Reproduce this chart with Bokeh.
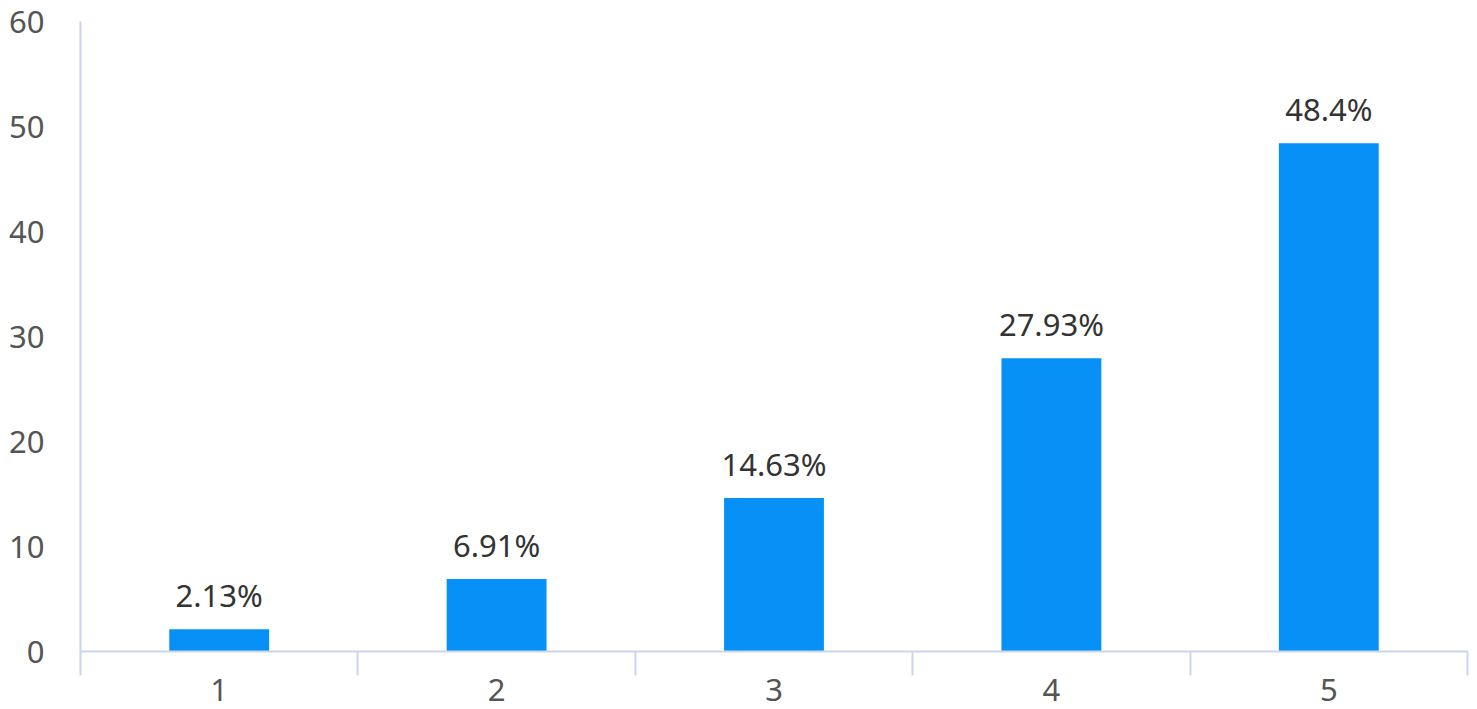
from bokeh.plotting import figure
from bokeh.models import ColumnDataSource, FixedTicker, Range1d
from bokeh.core.properties import value
from bokeh.embed import file_html
from bokeh.resources import INLINE

categories = [1, 2, 3, 4, 5]
values = [2.13, 6.91, 14.63, 27.93, 48.4]
labels = [f"{v}%" for v in values]
y_ticks = [0, 10, 20, 30, 40, 50, 60]
boundaries = [0.5, 1.5, 2.5, 3.5, 4.5, 5.5]

FONT = "Noto Sans"
AXIS = "#ccd6eb"
BAR = "#0791f7"

src = ColumnDataSource(dict(x=categories, top=values, label=labels))

p = figure(width=1477, height=709, output_backend="svg", toolbar_location=None,
           x_range=Range1d(0.5, 5.5), y_range=Range1d(0, 60),
           min_border_left=80, min_border_right=10, min_border_top=21, min_border_bottom=58)
p.outline_line_color = None
p.xgrid.grid_line_color = None
p.ygrid.grid_line_color = None

p.vbar(x="x", top="top", width=0.36, bottom=0, source=src, fill_color=BAR, line_color=None)
p.text(x="x", y="top", text="label", source=src, text_align="center", text_baseline="bottom",
       y_offset=-13, text_font=value(FONT), text_font_size="31px", text_color="#333333")

xa = p.xaxis[0]
xa.ticker = FixedTicker(ticks=categories, minor_ticks=boundaries)
xa.axis_line_color = AXIS
xa.axis_line_width = 2
xa.major_tick_line_color = None
xa.major_tick_out = 0
xa.major_tick_in = 0
xa.minor_tick_line_color = AXIS
xa.minor_tick_line_width = 2
xa.minor_tick_out = 24
xa.minor_tick_in = 0
xa.major_label_standoff = 3
xa.major_label_text_font = FONT
xa.major_label_text_font_size = "31px"
xa.major_label_text_color = "#555555"

ya = p.yaxis[0]
ya.ticker = FixedTicker(ticks=y_ticks, minor_ticks=[])
ya.axis_line_color = AXIS
ya.axis_line_width = 2
ya.major_tick_line_color = None
ya.major_tick_out = 0
ya.major_tick_in = 0
ya.minor_tick_line_color = None
ya.major_label_standoff = 36
ya.major_label_text_font = FONT
ya.major_label_text_font_size = "31px"
ya.major_label_text_color = "#555555"

open("out.html", "w").write(file_html(p, INLINE))
